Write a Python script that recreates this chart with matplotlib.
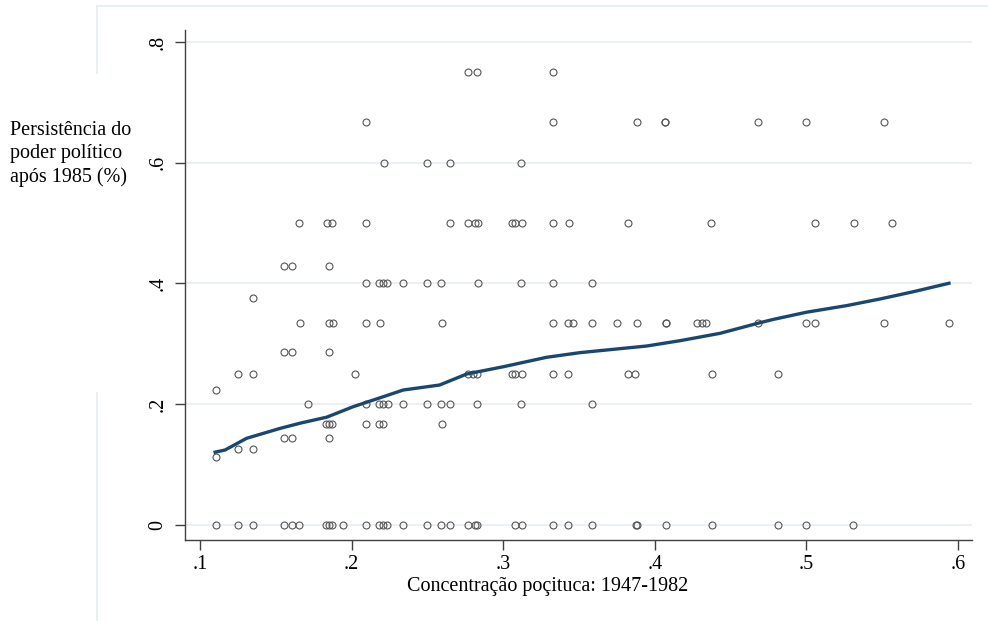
import matplotlib.pyplot as plt
import numpy as np
from matplotlib.lines import Line2D

plt.rcParams['font.family'] = ['Liberation Serif', 'DejaVu Serif']

# persistence share (y) rows and the concentration values (x) found on each row
x_750 = [.277, .283, .333]
x_667 = [.2095, .333, .3885, .4067, .4067, .4683, .5, .5512]
x_600 = [.2214, .2495, .265, .312]
x_500 = [.1655, .1836, .1869, .2095, .265, .277, .2815, .2836, .3056, .3078,
         .3122, .333, .3436, .3826, .437, .5057, .5314, .5563]
x_429 = [.1556, .1605, .185]
x_400 = [.2095, .2183, .221, .2236, .234, .2495, .259, .2832, .312, .333, .3584]
x_375 = [.135]
x_333 = [.166, .185, .188, .2095, .2187, .2594, .3326, .343, .346, .3584, .3749,
         .3885, .4073, .4073, .4276, .431, .434, .4683, .5, .5057, .5512, .5943]
x_286 = [.1556, .1605, .185]
x_250 = [.1249, .135, .2022, .277, .280, .283, .3056, .3078, .3122, .3326, .343,
         .382, .387, .4375, .4815]
x_222 = [.1103]
x_200 = [.171, .2095, .218, .221, .224, .234, .2495, .259, .265, .283, .312, .3584]
x_167 = [.183, .185, .187, .2095, .218, .221, .2594]
x_143 = [.1556, .1605, .185]
x_125 = [.1249, .135]
x_111 = [.1103]
x_000 = [.1103, .1249, .135, .1556, .1605, .1655, .183, .185, .187, .194, .2095,
         .218, .221, .2236, .234, .2495, .259, .265, .277, .2815, .283, .3078,
         .3122, .3326, .343, .3584, .3876, .3885, .4073, .4375, .4815, .5, .5304]

rows = [(0.75, x_750), (2 / 3, x_667), (0.6, x_600), (0.5, x_500), (3 / 7, x_429),
        (0.4, x_400), (0.375, x_375), (1 / 3, x_333), (2 / 7, x_286), (0.25, x_250),
        (2 / 9, x_222), (0.2, x_200), (1 / 6, x_167), (1 / 7, x_143), (0.125, x_125),
        (1 / 9, x_111), (0.0, x_000)]

# lowess fit
lowess_x = [.110, .1165, .1308, .153, .166, .1836, .2011, .221, .234, .258, .276,
            .3002, .3287, .3507, .3947, .4166, .443, .4694, .478, .5, .5266, .5486,
            .5705, .594]
lowess_y = [.120, .1235, .143, .1595, .168, .178, .1954, .212, .223, .2313, .2496,
            .2617, .2773, .285, .296, .3048, .317, .3347, .340, .352, .363, .374,
            .386, .400]

xticks = [.1, .2, .3, .4, .5, .6]
xtick_labels = ['.1', '.2', '.3', '.4', '.5', '.6']
yticks = [0, .2, .4, .6, .8]
ytick_labels = ['0', '.2', '.4', '.6', '.8']

fs = 14.5
W, H = 988, 621
fig = plt.figure(figsize=(9.88, 6.21), dpi=100)
ax = fig.add_axes([185 / W, 81 / H, 787 / W, 510 / H])

# light graph-region frame (broken behind the y title)
frame = '#e4ecf0'
fig.lines.append(Line2D([97 / W, 1.0], [1 - 6 / H, 1 - 6 / H], transform=fig.transFigure,
                        color=frame, linewidth=1.2, zorder=0))
fig.lines.append(Line2D([97 / W, 97 / W], [1 - 6 / H, 1 - 73 / H], transform=fig.transFigure,
                        color=frame, linewidth=1.2, zorder=0))
fig.lines.append(Line2D([97 / W, 97 / W], [1 - 393 / H, 0.0], transform=fig.transFigure,
                        color=frame, linewidth=1.2, zorder=0))

px = np.concatenate([r[1] for r in rows])
py = np.concatenate([[r[0]] * len(r[1]) for r in rows])
ax.plot(px, py, linestyle='none', marker='o', markersize=5, markerfacecolor='none',
        markeredgecolor='#555555', markeredgewidth=0.8, zorder=3)
ax.plot(lowess_x, lowess_y, color='#1a476f', linewidth=2.4, zorder=4)

ax.set_xlim(.0901, .6092)
ax.set_ylim(-.0257, .820)
ax.set_xticks(xticks)
ax.set_xticklabels(xtick_labels, fontsize=fs)
ax.set_yticks(yticks)
ax.set_yticklabels(ytick_labels, fontsize=fs, rotation=90, va='center')
ax.tick_params(axis='both', length=7, width=1, color='#404040', direction='out')
ax.tick_params(axis='x', pad=4)
ax.tick_params(axis='y', pad=5.5)

ax.grid(axis='y', color='#e6eef1', linewidth=1.2)
ax.set_axisbelow(True)
for s in ['top', 'right']:
    ax.spines[s].set_visible(False)
for s in ['left', 'bottom']:
    ax.spines[s].set_color('#404040')
    ax.spines[s].set_linewidth(1)

ax.set_xlabel('Concentração poçituca: 1947-1982', fontsize=fs, labelpad=0)
ax.xaxis.set_label_coords((548 - 185) / 787, -0.072)
fig.text(10 / W, 1 - 121 / H, 'Persistência do\npoder político\napós 1985 (%)',
         fontsize=fs, va='top', ha='left', linespacing=1.3)

fig.savefig('out.png', dpi=100)
